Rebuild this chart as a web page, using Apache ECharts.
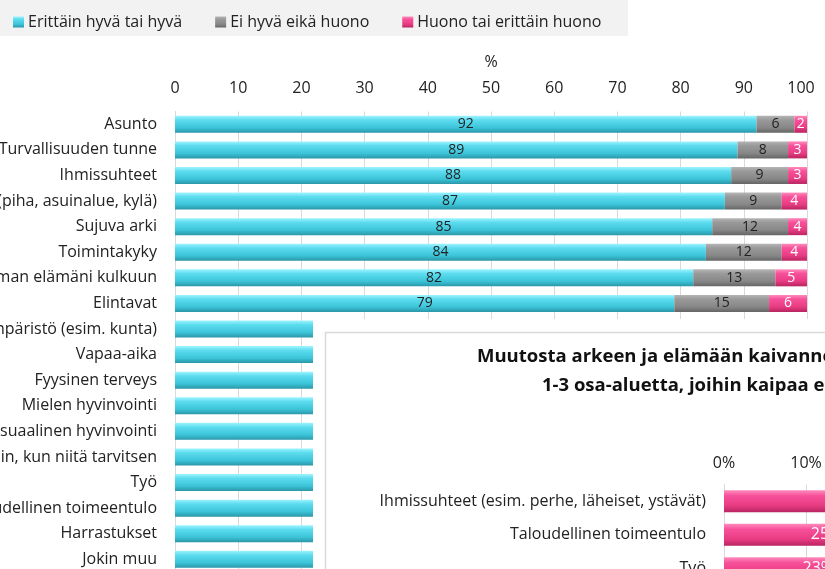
<!DOCTYPE html>
<html><head><meta charset="utf-8">
<script src="https://cdn.jsdelivr.net/npm/echarts@6/dist/echarts.min.js"></script>
<style>html,body{margin:0;padding:0;background:#fff}#c{width:825px;height:569px}</style>
</head><body><div id="c"></div>
<script>
var categories = ['Asunto','Turvallisuuden tunne','Ihmissuhteet','Lähiympäristö (piha, asuinalue, kylä)','Sujuva arki','Toimintakyky','Vaikutusmahdollisuus oman elämäni kulkuun','Elintavat','Asuinympäristö (esim. kunta)','Vapaa-aika','Fyysinen terveys','Mielen hyvinvointi','Seksuaalinen hyvinvointi','Palvelujen saatavuus silloin, kun niitä tarvitsen','Työ','Taloudellinen toimeentulo','Harrastukset','Jokin muu'];
// rows 9-18 are hidden behind the overlaid chart; values estimated
var goodValues = [92,89,88,87,85,84,82,79,78,77,75,73,72,70,66,62,60,55];
var neutralValues = [6,8,9,9,12,12,13,15,null,null,null,null,null,null,null,null,null,null];
var badValues = [2,3,3,4,4,4,5,6,null,null,null,null,null,null,null,null,null,null];
var xTicks = [0,10,20,30,40,50,60,70,80,90,100];

var changeCategories = ['Ihmissuhteet (esim. perhe, läheiset, ystävät)','Taloudellinen toimeentulo','Työ'];
var changeValues = [38,25,23];
var changeTitle1 = 'Muutosta arkeen ja elämään kaivanneet:';
var changeTitle2 = '1-3 osa-aluetta, joihin kaipaa eniten muutosta';

var FONT = 'Open Sans';
function grad(c0,c1,c2,c3){
  return new echarts.graphic.LinearGradient(0,0,0,1,[
    {offset:0,color:c0},{offset:0.25,color:c1},{offset:0.7,color:c2},{offset:1,color:c3}]);
}
var cyan = grad('#9ff4ff','#5ddcef','#3cc4d9','#2a97a8');
var gray = grad('#b5b5b5','#9a9a9a','#878787','#656565');
var pink = grad('#ff8cbc','#f7509a','#e83c82','#b82460');

var chart = echarts.init(document.getElementById('c'));
chart.setOption({
  animation:false,
  textStyle:{fontFamily:FONT},
  graphic:[
    {type:'rect', z:-10, shape:{x:0,y:0,width:628,height:36}, style:{fill:'#f2f2f2'}},
    {type:'rect', z:50, shape:{x:313,y:319,width:520,height:260}, style:{fill:'#ffffff'}},
    {type:'rect', z:51, shape:{x:325.5,y:332.5,width:520,height:260}, style:{fill:'#ffffff',stroke:'#d9d9d9',lineWidth:1.5}},
    {type:'text', z:60, left:477, top:347, style:{text:changeTitle1, font:'bold 18.5px "Open Sans"', fill:'#111'}},
    {type:'text', z:60, left:542, top:376, style:{text:changeTitle2, font:'bold 18.5px "Open Sans"', fill:'#111'}}
  ],
  legend:{
    left:8, top:9, itemWidth:11, itemHeight:11, itemGap:33,
    textStyle:{fontSize:16, color:'#222', fontFamily:FONT, padding:[0,0,0,-1]},
    data:[
      {name:'Erittäin hyvä tai hyvä', icon:'rect', itemStyle:{color:cyan}},
      {name:'Ei hyvä eikä huono', icon:'rect', itemStyle:{color:gray}},
      {name:'Huono tai erittäin huono', icon:'rect', itemStyle:{color:pink}}
    ]
  },
  grid:[
    {left:175, top:111.5, width:632, height:460.6, containLabel:false, outerBoundsMode:'none'},
    {left:724, top:484.5, width:410, height:100.5, containLabel:false, outerBoundsMode:'none'}
  ],
  xAxis:[
    {type:'value', gridIndex:0, position:'top', min:0, max:100, interval:10,
     name:'%', nameLocation:'middle', nameGap:41, nameTextStyle:{fontSize:16,color:'#222'},
     axisLine:{show:false}, axisTick:{show:false},
     axisLabel:{fontSize:16, color:'#222', margin:15,
       formatter:function(v){ if(xTicks.indexOf(v)<0) return ''; return v===100?'{r|100}':String(v);},
       rich:{r:{fontSize:16,color:'#222',padding:[0,12,0,0]}}},
     splitLine:{lineStyle:{color:'#d9d9d9',width:1}}},
    {type:'value', gridIndex:1, position:'top', min:0, max:50, interval:10, z:70,
     axisLine:{show:false}, axisTick:{show:false},
     axisLabel:{fontSize:16, color:'#222', margin:13, formatter:'{value}%'},
     splitLine:{lineStyle:{color:'#d9d9d9',width:1}}}
  ],
  yAxis:[
    {type:'category', gridIndex:0, data:categories, inverse:true,
     axisLine:{lineStyle:{color:'#d9d9d9'}}, axisTick:{show:false},
     axisLabel:{fontSize:16, color:'#222', margin:18}},
    {type:'category', gridIndex:1, data:changeCategories, inverse:true, z:70,
     axisLine:{lineStyle:{color:'#d9d9d9'}}, axisTick:{show:false},
     axisLabel:{fontSize:16, color:'#222', margin:18}}
  ],
  series:[
    {name:'Erittäin hyvä tai hyvä', type:'bar', stack:'a', xAxisIndex:0, yAxisIndex:0, barWidth:17,
     data:goodValues, itemStyle:{color:cyan},
     label:{show:true, position:'inside', fontSize:14, color:'#222', formatter:function(p){return p.dataIndex<8?p.value:'';}}},
    {name:'Ei hyvä eikä huono', type:'bar', stack:'a', xAxisIndex:0, yAxisIndex:0, barWidth:17,
     data:neutralValues, itemStyle:{color:gray},
     label:{show:true, position:'inside', fontSize:14, color:'#222'}},
    {name:'Huono tai erittäin huono', type:'bar', stack:'a', xAxisIndex:0, yAxisIndex:0, barWidth:17,
     data:badValues, itemStyle:{color:pink},
     label:{show:true, position:'inside', fontSize:14, color:'#fff'}},
    {name:'muutos', type:'bar', xAxisIndex:1, yAxisIndex:1, barWidth:22, z:70,
     data:changeValues, itemStyle:{color:pink},
     label:{show:true, position:'inside', fontSize:16, color:'#fff', formatter:'{c}%'}}
  ]
});
</script></body></html>
